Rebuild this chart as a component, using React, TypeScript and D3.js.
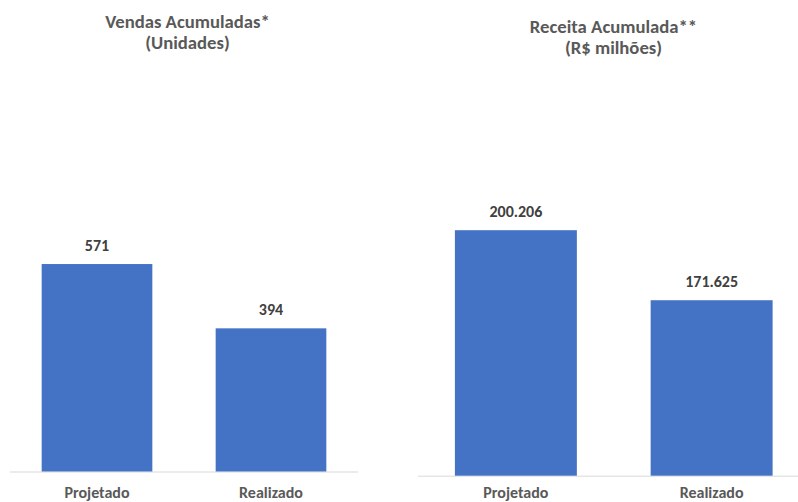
import React from "react";
import * as d3 from "d3";

const categories = ["Projetado", "Realizado"];
const salesValues = [571, 394];
const revenueValues = [200.206, 171.625];
const salesTitle = ["Vendas Acumuladas*", "(Unidades)"];
const revenueTitle = ["Receita Acumulada**", "(R$ milhões)"];

const BAR = "#4472C4";
const FONT = "Calibri, Carlito, Lato, 'Open Sans', sans-serif";
const fmt = (v: number, dec: boolean) =>
  dec ? d3.format(",.3f")(v).replace(/,/g, "X").replace(/X/g, ".") : String(v);

type PanelProps = {
  values: number[];
  title: string[];
  xRange: [number, number];
  yDomain: [number, number];
  yRange: [number, number];
  pIn: number;
  titleX: number;
  titleY: number;
  catY: number;
  axisEnd: number;
  decimal: boolean;
};

function Panel(p: PanelProps) {
  const x = d3
    .scaleBand<string>()
    .domain(categories)
    .range(p.xRange)
    .paddingInner(p.pIn)
    .paddingOuter(p.pIn / 2);
  const y = d3.scaleLinear().domain(p.yDomain).range(p.yRange);
  const base = p.yRange[0];
  return (
    <g>
      {p.title.map((t, i) => (
        <text
          key={t}
          x={p.titleX}
          y={p.titleY + i * 21}
          textAnchor="middle"
          fontFamily={FONT}
          fontWeight="bold"
          fontSize={18.7}
          fill="#595959"
        >
          {t}
        </text>
      ))}
      <line x1={p.xRange[0]} x2={p.axisEnd} y1={base + 0.5} y2={base + 0.5} stroke="#D9D9D9" strokeWidth={1} />
      {categories.map((c, i) => {
        const v = p.values[i];
        const bx = x(c)!;
        const by = y(v);
        return (
          <g key={c}>
            <rect x={bx} y={by} width={x.bandwidth()} height={base - by} fill={BAR} />
            <text
              x={bx + x.bandwidth() / 2}
              y={by - 13.3}
              textAnchor="middle"
              fontFamily={FONT}
              fontWeight="bold"
              fontSize={16}
              fill="#404040"
            >
              {fmt(v, p.decimal)}
            </text>
            <text
              x={bx + x.bandwidth() / 2}
              y={p.catY}
              textAnchor="middle"
              fontFamily={FONT}
              fontWeight="bold"
              fontSize={16}
              fill="#595959"
            >
              {c}
            </text>
          </g>
        );
      })}
    </g>
  );
}

export default function App() {
  return (
    <svg
      width={798}
      height={502}
      style={{ position: "absolute", left: 0, top: 0, background: "#fff" }}
    >
      <rect width={798} height={502} fill="#fff" />
      <Panel
        values={salesValues}
        title={salesTitle}
        xRange={[10, 358]}
        yDomain={[0, 600]}
        yRange={[471.5, 253.5]}
        pIn={0.364}
        titleX={187.5}
        titleY={28.3}
        catY={497.5}
        axisEnd={358}
        decimal={false}
      />
      <Panel
        values={revenueValues}
        title={revenueTitle}
        xRange={[418, 809.5]}
        yDomain={[100, 250]}
        yRange={[475.7, 108.2]}
        pIn={0.377}
        titleX={613.5}
        titleY={33.3}
        catY={497.5}
        axisEnd={798}
        decimal={true}
      />
    </svg>
  );
}
